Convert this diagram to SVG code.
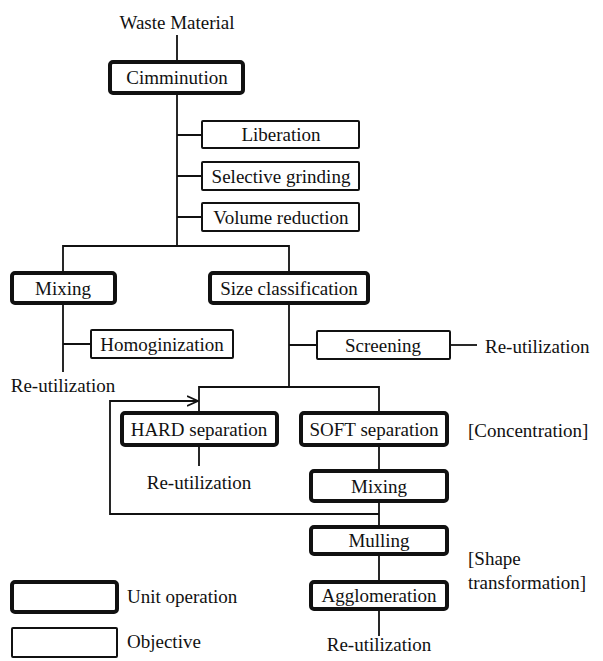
<svg xmlns="http://www.w3.org/2000/svg" width="603" height="661" viewBox="0 0 603 661">
<defs>
<style>
text{font-family:'Liberation Serif','DejaVu Serif',serif;font-size:19px;fill:#111;}
.c{text-anchor:middle;}
.unit{fill:#fff;stroke:#111;stroke-width:4;}
.obj{fill:#fff;stroke:#111;stroke-width:2;}
.ln{fill:none;stroke:#111;stroke-width:1.8;}
</style>
<marker id="open" viewBox="0 0 12 12" refX="11" refY="6" markerWidth="12" markerHeight="12" markerUnits="userSpaceOnUse" orient="auto">
<path d="M0,1 L11,6 L0,11" fill="none" stroke="#111" stroke-width="1.8"/>
</marker>
</defs>
<rect width="603" height="661" fill="#fff"/>
<g id="connectors">
<path class="ln" d="M177,35 V62"/>
<path class="ln" d="M177,93 V246"/>
<path class="ln" d="M177,135 H202 M177,176 H202 M177,217 H202"/>
<path class="ln" d="M63,273 V246 H289 V273"/>
<path class="ln" d="M63,303 V372 M63,344 H91"/>
<path class="ln" d="M289,303 V387 M289,345 H317"/>
<path class="ln" d="M450,345 H477"/>
<path class="ln" d="M199,413 V387 H379 V413"/>
<path class="ln" d="M379,514 H110 V401 H198" marker-end="url(#open)"/>
<path class="ln" d="M199,445 V466"/>
<path class="ln" d="M379,445 V471 M379,501 V527 M379,554 V582 M379,609 V636"/>
</g>
<g font-family="Liberation Serif, DejaVu Serif, serif">
<g id="waste"><text class="c" x="177" y="29">Waste Material</text></g>
<g id="cimminution"><rect class="unit" x="110" y="62" width="133" height="31" rx="3"/><text class="c" x="177" y="84">Cimminution</text></g>
<g id="liberation"><rect class="obj" x="202" y="121" width="157" height="27" rx="1"/><text class="c" x="281" y="141">Liberation</text></g>
<g id="selective"><rect class="obj" x="202" y="162" width="157" height="28" rx="1"/><text class="c" x="281" y="183">Selective grinding</text></g>
<g id="volume"><rect class="obj" x="202" y="203" width="157" height="28" rx="1"/><text class="c" x="281" y="224">Volume reduction</text></g>
<g id="mixing1"><rect class="unit" x="12" y="273" width="103" height="30" rx="3"/><text class="c" x="63" y="295">Mixing</text></g>
<g id="sizeclass"><rect class="unit" x="210" y="273" width="158" height="30" rx="3"/><text class="c" x="289" y="295">Size classification</text></g>
<g id="homog"><rect class="obj" x="91" y="330" width="142" height="28" rx="1"/><text class="c" x="162" y="351">Homoginization</text></g>
<g id="reutil1"><text class="c" x="63" y="392">Re-utilization</text></g>
<g id="screening"><rect class="obj" x="317" y="331" width="133" height="28" rx="1"/><text class="c" x="383" y="352">Screening</text></g>
<g id="reutil2"><text x="485" y="353">Re-utilization</text></g>
<g id="hard"><rect class="unit" x="122" y="413" width="155" height="32" rx="3"/><text class="c" x="199" y="436">HARD separation</text></g>
<g id="soft"><rect class="unit" x="301" y="413" width="146" height="32" rx="3"/><text class="c" x="374" y="436">SOFT separation</text></g>
<g id="concentration"><text x="468" y="437">[Concentration]</text></g>
<g id="reutil3"><text class="c" x="199" y="489">Re-utilization</text></g>
<g id="mixing2"><rect class="unit" x="311" y="471" width="136" height="30" rx="3"/><text class="c" x="379" y="493">Mixing</text></g>
<g id="mulling"><rect class="unit" x="311" y="527" width="136" height="27" rx="3"/><text class="c" x="379" y="547">Mulling</text></g>
<g id="agglom"><rect class="unit" x="311" y="582" width="136" height="27" rx="3"/><text class="c" x="379" y="602">Agglomeration</text></g>
<g id="reutil4"><text class="c" x="379" y="651">Re-utilization</text></g>
<g id="shape"><text x="468" y="565">[Shape</text><text x="468" y="589">transformation]</text></g>
<g id="legend-unit"><rect class="unit" x="12" y="582" width="105" height="30" rx="3"/><text x="127" y="603">Unit operation</text></g>
<g id="legend-obj"><rect class="obj" x="12" y="628" width="105" height="29" rx="1"/><text x="127" y="648">Objective</text></g>
</g>
</svg>
